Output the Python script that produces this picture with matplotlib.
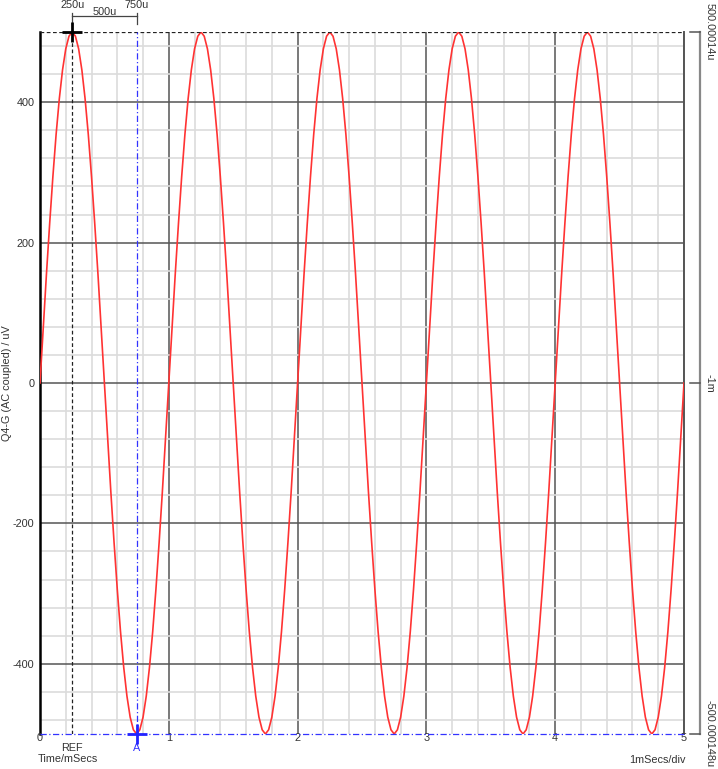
import numpy as np
import matplotlib
matplotlib.use("Agg")
import matplotlib.pyplot as plt
from matplotlib.lines import Line2D

plt.rcParams["font.family"] = ["Liberation Sans", "DejaVu Sans"]
plt.rcParams["axes.unicode_minus"] = False

# one cycle of the trace (uV, 40 samples per 1 ms)
cycle_uV = [0, 78, 155, 227, 294, 354, 405, 446, 476, 494,
            500, 494, 476, 446, 405, 354, 294, 227, 155, 78,
            0, -78, -155, -227, -294, -354, -405, -446, -476, -494,
            -500, -494, -476, -446, -405, -354, -294, -227, -155, -78]
n_cycles = 5
period_ms = 1.0

x_ticks = [0, 1, 2, 3, 4, 5]
y_ticks = [-400, -200, 0, 200, 400]

ref_t, ref_v = 0.25, 500
a_t, a_v = 0.75, -500
cursor_labels = ["250u", "500u", "750u"]
right_ticks = [500, 0, -500]
right_labels = ["500.00014u", "-1m", "-500.000148u"]

signal = np.append(np.tile(cycle_uV, n_cycles), cycle_uV[0])
t = np.linspace(0, n_cycles * period_ms, len(signal))

txt = "#333333"
fs = 7.8

fig = plt.figure(figsize=(7.18, 7.69), dpi=100)
ax = fig.add_axes([40/718, 1-734/769, 644/718, 702/769])
ax.set_xlim(0, 5)
ax.set_ylim(-500, 500)

# grid
ax.set_xticks(np.arange(0, 5.01, 0.2), minor=True)
ax.set_yticks(np.arange(-480, 481, 40), minor=True)
ax.set_xticks(x_ticks)
ax.set_yticks(y_ticks)
ax.grid(which="minor", color="#dcdcdc", lw=1.2)
ax.grid(which="major", color="#555555", lw=1.1)
ax.set_axisbelow(True)
ax.tick_params(axis="x", which="major", length=0, labelbottom=False)
ax.tick_params(axis="y", which="major", length=0, labelsize=fs, pad=4,
               labelcolor=txt)
ax.tick_params(which="minor", length=0)

xt = ax.get_xaxis_transform()
for v in x_ticks:
    ax.text(v, -0.0057, str(v), transform=xt, ha="center", va="center",
            fontsize=fs, color=txt)

for s in ["top", "bottom"]:
    ax.spines[s].set_visible(False)
ax.spines["left"].set_color("black")
ax.spines["left"].set_linewidth(1.8)
ax.spines["right"].set_color("#555555")
ax.spines["right"].set_linewidth(1.4)

# trace
ax.plot(t, signal, color="#ff3333", lw=1.2, zorder=3)

# cursors
ax.axhline(ref_v, color="#222222", ls=(0, (3, 2)), lw=0.9, zorder=4)
ax.axvline(ref_t, color="#222222", ls=(0, (3, 2)), lw=0.9, zorder=4)
ax.axhline(a_v, color="#3333ff", ls=(0, (5, 2, 1, 2)), lw=0.9, zorder=4,
           clip_on=False)
ax.axvline(a_t, color="#3333ff", ls=(0, (5, 2, 1, 2)), lw=0.9, zorder=4)
ax.plot(ref_t, ref_v, marker="+", ms=14, mew=2, color="black",
        clip_on=False, zorder=5)
ax.plot(a_t, a_v, marker="+", ms=14, mew=2, color="#2222ff",
        clip_on=False, zorder=5)

# cursor readouts above the plot
ax.text(ref_t, 1.0385, cursor_labels[0], transform=xt, ha="center",
        va="center", fontsize=fs, color=txt)
ax.text(a_t, 1.0385, cursor_labels[2], transform=xt, ha="center",
        va="center", fontsize=fs, color=txt)
ax.text((ref_t + a_t) / 2, 1.0285, cursor_labels[1], transform=xt,
        ha="center", va="center", fontsize=fs, color=txt)
ax.add_line(Line2D([ref_t, a_t], [1.0228, 1.0228], transform=xt,
                   color="#444444", lw=0.9, clip_on=False))
for tc in [ref_t, a_t]:
    ax.add_line(Line2D([tc, tc], [1.0114, 1.0271], transform=xt,
                       color="#444444", lw=0.9, clip_on=False))

ax.text(ref_t, -0.0199, "REF", transform=xt, ha="center", va="center",
        fontsize=fs, color=txt)
ax.text(a_t, -0.0199, "A", transform=xt, ha="center", va="center",
        fontsize=fs, color="#3333ff")
ax.text(0.2135, -0.0356, "Time/mSecs", transform=xt, ha="center",
        va="center", fontsize=fs, color=txt)
ax.text(4.79, -0.037, "1mSecs/div", transform=xt, ha="center",
        va="center", fontsize=fs, color=txt)

# y label, centred 7 px from the left edge
ax.text(-33/644, 0.5, "Q4-G (AC coupled) / uV", transform=ax.transAxes,
        rotation=90, ha="center", va="center", fontsize=fs, color=txt)

# secondary scale on the right
yt = ax.get_yaxis_transform()
x_sec = 1 + 15.5/644
ax.add_line(Line2D([x_sec, x_sec], [-500, 500], transform=yt,
                   color="#888888", lw=1.6, clip_on=False))
for v, lab in zip(right_ticks, right_labels):
    ax.add_line(Line2D([x_sec - 10/644, x_sec], [v, v], transform=yt,
                       color="#555555", lw=1.1, clip_on=False))
    ax.text(1 + 26/644, v, lab, transform=yt, rotation=-90,
            rotation_mode="anchor", ha="center", va="center", fontsize=fs,
            color=txt)

fig.savefig("out.png", dpi=100)
